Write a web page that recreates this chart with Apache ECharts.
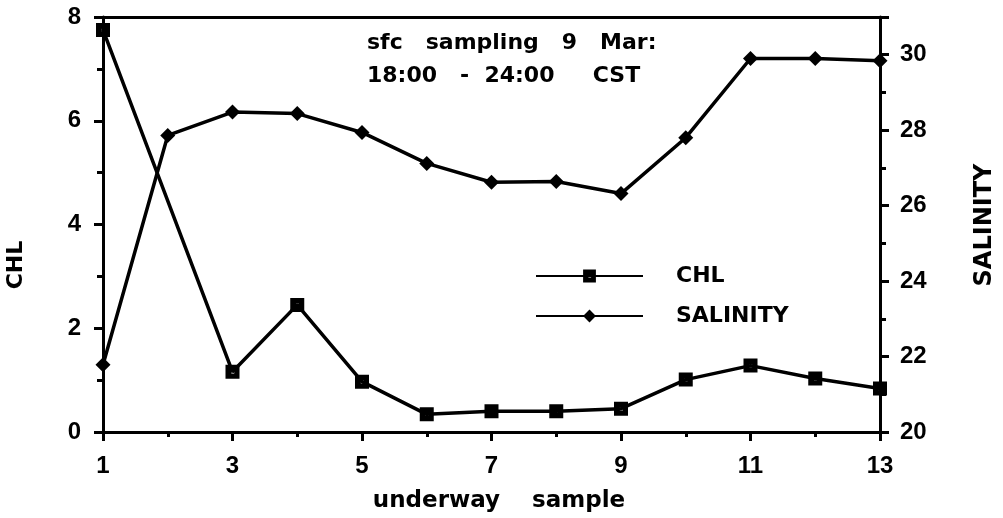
<!DOCTYPE html>
<html>
<head>
<meta charset="utf-8">
<script src="https://cdn.jsdelivr.net/npm/echarts@6/dist/echarts.min.js"></script>
<style>
html,body{margin:0;padding:0;background:#fff;}
#c{width:1003px;height:518px;}
</style>
</head>
<body>
<div id="c"></div>
<script>
var samples = ['1','2','3','4','5','6','7','8','9','10','11','12','13'];
var chl = [7.75, null, 1.16, 2.45, 0.97, 0.34, 0.4, 0.4, 0.45, 1.01, 1.28, 1.03, 0.84];
var salinity = [21.78, 27.86, 28.48, 28.44, 27.94, 27.12, 26.62, 26.64, 26.32, 27.8, 29.9, 29.9, 29.84];
var titleLines = ['sfc   sampling   9   Mar:', '18:00   -  24:00     CST'];
var xName = 'underway    sample';
var yLeftName = 'CHL';
var yRightName = 'SALINITY';

var FONT = 'Liberation Sans';
var WIDE = 'DejaVu Sans';
var chart = echarts.init(document.getElementById('c'));
var axisLineStyle = {color: '#000', width: 3};
var labelStyle = {color: '#000', fontFamily: FONT, fontWeight: 'bold', fontSize: 24};

chart.setOption({
  animation: false,
  backgroundColor: '#fff',
  title: {
    text: titleLines.join('\n'),
    left: 362, top: 22,
    textStyle: {color: '#000', fontFamily: WIDE, fontWeight: 'bold', fontSize: 22, lineHeight: 33}
  },
  legend: {
    orient: 'vertical',
    left: 530, top: 260,
    itemWidth: 107, itemHeight: 16, itemGap: 18,
    data: ['CHL', 'SALINITY'],
    textStyle: {color: '#000', fontFamily: WIDE, fontWeight: 'bold', fontSize: 22, padding: [0, 0, 0, 28]}
  },
  graphic: [
    {type: 'text', x: 16, y: 265, rotation: Math.PI / 2,
     style: {text: yLeftName, font: 'bold 22px "' + WIDE + '"', fill: '#000', align: 'center', verticalAlign: 'middle'}},
    {type: 'text', x: 985, y: 225, rotation: Math.PI / 2,
     style: {text: yRightName, font: 'bold 24px "' + WIDE + '"', fill: '#000', align: 'center', verticalAlign: 'middle'}},
    {type: 'text', x: 499, y: 501,
     style: {text: xName, font: 'bold 23px "' + WIDE + '"', fill: '#000', align: 'center', verticalAlign: 'middle'}}
  ],
  grid: {left: 103, right: 123, top: 17, bottom: 86},
  xAxis: [
    {
      type: 'category', data: samples, boundaryGap: false, position: 'bottom',
      axisLine: {lineStyle: axisLineStyle},
      axisTick: {show: true, interval: 1, length: 9, lineStyle: {color: '#000', width: 3}},
      axisLabel: Object.assign({interval: 1, margin: 22}, labelStyle),
      splitLine: {show: false}
    },
    {
      type: 'category', data: samples, boundaryGap: false, position: 'bottom',
      axisLine: {show: false},
      axisTick: {show: true, interval: 0, length: 5, lineStyle: {color: '#000', width: 3}},
      axisLabel: {show: false},
      splitLine: {show: false}
    },
    {
      type: 'category', data: samples, boundaryGap: false, position: 'top',
      axisLine: {lineStyle: axisLineStyle},
      axisTick: {show: false}, axisLabel: {show: false}, splitLine: {show: false}
    }
  ],
  yAxis: [
    {
      type: 'value', min: 0, max: 8, interval: 2, position: 'left',
      axisLine: {show: true, lineStyle: axisLineStyle},
      axisTick: {show: true, length: 9, lineStyle: {color: '#000', width: 3}},
      minorTick: {show: true, splitNumber: 2, length: 6, lineStyle: {color: '#000', width: 3}},
      axisLabel: Object.assign({margin: 22}, labelStyle),
      splitLine: {show: false}
    },
    {
      type: 'value', min: 20, max: 31, interval: 2, position: 'right',
      axisLine: {show: true, lineStyle: axisLineStyle},
      axisTick: {show: true, length: 9, lineStyle: {color: '#000', width: 3}},
      minorTick: {show: true, splitNumber: 2, length: 6, lineStyle: {color: '#000', width: 3}},
      axisLabel: Object.assign({margin: 20, formatter: function (v) { return v > 30 ? '' : String(v); }}, labelStyle),
      splitLine: {show: false}
    }
  ],
  series: [
    {
      name: 'CHL', type: 'line', data: chl, xAxisIndex: 0, yAxisIndex: 0,
      connectNulls: true,
      symbol: 'path://M0,0H12V12H0Z M5,5V7.5H7.5V5Z', symbolSize: 14,
      lineStyle: {color: '#000', width: 3.5},
      itemStyle: {color: '#000', borderWidth: 0}
    },
    {
      name: 'SALINITY', type: 'line', data: salinity, xAxisIndex: 0, yAxisIndex: 1,
      symbol: 'diamond', symbolSize: 15,
      lineStyle: {color: '#000', width: 3.5},
      itemStyle: {color: '#000', borderWidth: 0}
    }
  ]
});
</script>
</body>
</html>
